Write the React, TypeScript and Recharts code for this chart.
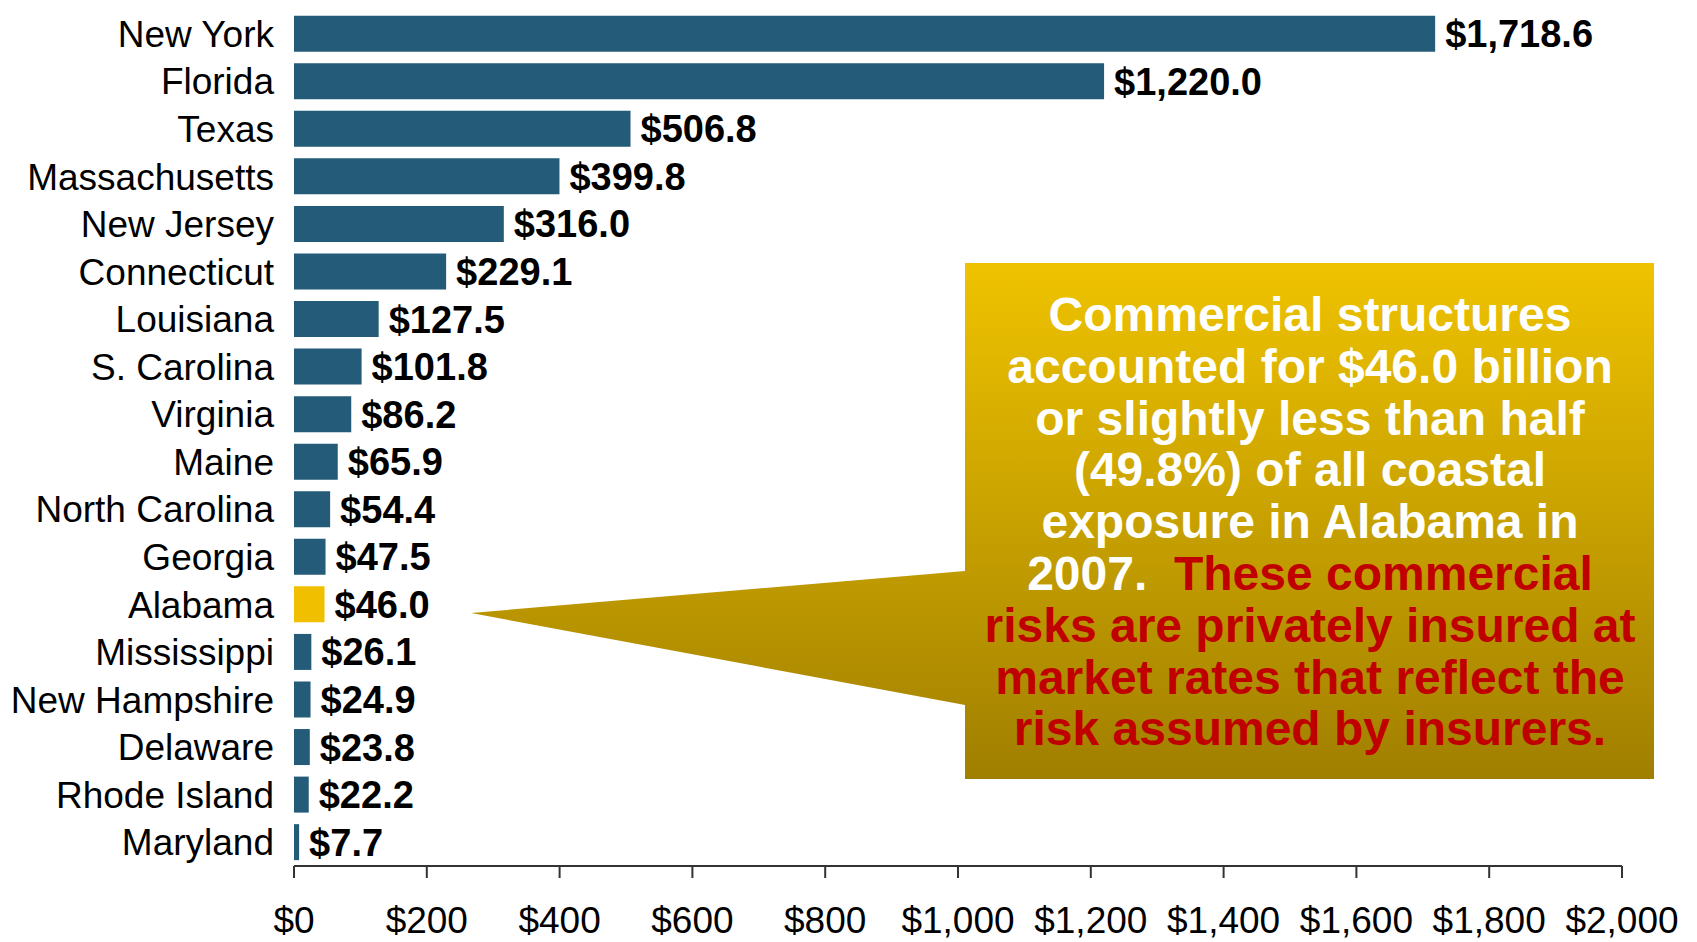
import { Bar, BarChart, Cell, LabelList, XAxis, YAxis } from "recharts";

const states = [
  "New York",
  "Florida",
  "Texas",
  "Massachusetts",
  "New Jersey",
  "Connecticut",
  "Louisiana",
  "S. Carolina",
  "Virginia",
  "Maine",
  "North Carolina",
  "Georgia",
  "Alabama",
  "Mississippi",
  "New Hampshire",
  "Delaware",
  "Rhode Island",
  "Maryland",
];
const exposure = [
  1718.6, 1220.0, 506.8, 399.8, 316.0, 229.1, 127.5, 101.8, 86.2, 65.9, 54.4,
  47.5, 46.0, 26.1, 24.9, 23.8, 22.2, 7.7,
];
const highlighted = "Alabama";
const xTicks = [0, 200, 400, 600, 800, 1000, 1200, 1400, 1600, 1800, 2000];
const boundaryTicks = states.map((_, i) => i).concat(states.length);

const calloutWhite = [
  "Commercial structures",
  "accounted for $46.0 billion",
  "or slightly less than half",
  "(49.8%) of all coastal",
  "exposure in Alabama in",
];
const calloutMixed = { white: "2007.\u00a0 ", red: "These commercial" };
const calloutRed = [
  "risks are privately insured at",
  "market rates that reflect the",
  "risk assumed by insurers.",
];

const data = states.map((state, i) => ({ state, value: exposure[i] }));

const BLUE = "#235b79";
const YELLOW = "#f0c000";
const FONT = "Arial, 'Liberation Sans', sans-serif";

const money = (v: number) => `$${v.toLocaleString("en-US")}`;
const moneyLabel = (v: any) =>
  `$${Number(v).toLocaleString("en-US", { minimumFractionDigits: 1, maximumFractionDigits: 1 })}`;

function Callout() {
  const cx = 1310;
  const y0 = 331;
  const step = 51.8;
  return (
    <svg
      width={1697}
      height={942}
      style={{ position: "absolute", left: 0, top: 0, pointerEvents: "none" }}
    >
      <defs>
        <linearGradient id="calloutFill" gradientUnits="userSpaceOnUse" x1="0" y1="263" x2="0" y2="779">
          <stop offset="0%" stopColor="#efc300" />
          <stop offset="100%" stopColor="#a07f00" />
        </linearGradient>
      </defs>
      <path
        d="M 471 613 L 965 571 L 965 263 L 1654 263 L 1654 779 L 965 779 L 965 705 Z"
        fill="url(#calloutFill)"
      />
      <g fontFamily={FONT} fontSize={48} fontWeight="bold" textAnchor="middle" style={{ whiteSpace: "pre" }}>
        {calloutWhite.map((line, i) => (
          <text key={line} x={cx} y={y0 + i * step} fill="#ffffff">
            {line}
          </text>
        ))}
        <text x={cx} y={y0 + 5 * step}>
          <tspan fill="#ffffff">{calloutMixed.white}</tspan>
          <tspan fill="#c00000">{calloutMixed.red}</tspan>
        </text>
        {calloutRed.map((line, i) => (
          <text key={line} x={cx} y={y0 + (6 + i) * step} fill="#c00000">
            {line}
          </text>
        ))}
      </g>
    </svg>
  );
}

export default function App() {
  return (
    <div
      style={{
        position: "absolute",
        left: 0,
        top: 0,
        width: 1697,
        height: 942,
        background: "#fff",
        fontFamily: FONT,
      }}
    >
      <BarChart
        width={1697}
        height={942}
        data={data}
        layout="vertical"
        margin={{ top: 10, right: 75, bottom: 6, left: 0 }}
        barCategoryGap="12%"
      >
        <YAxis
          yAxisId="bounds"
          type="number"
          domain={[0, states.length]}
          ticks={boundaryTicks}
          width={0}
          tick={false}
          tickSize={10}
          axisLine={{ stroke: "#333", strokeWidth: 2 }}
          tickLine={{ stroke: "#333", strokeWidth: 2 }}
        />
        <YAxis
          yAxisId="cat"
          type="category"
          dataKey="state"
          width={294}
          interval={0}
          axisLine={false}
          tickLine={false}
          tickSize={10}
          tickMargin={10}
          tick={{ fill: "#000", fontSize: 37, fontFamily: FONT }}
        />
        <XAxis
          type="number"
          domain={[0, 2000]}
          ticks={xTicks}
          tickFormatter={money}
          height={70}
          tickSize={12}
          tickMargin={29}
          axisLine={{ stroke: "#333", strokeWidth: 2 }}
          tickLine={{ stroke: "#333", strokeWidth: 2 }}
          tick={{ fill: "#000", fontSize: 37, fontFamily: FONT }}
        />
        <Bar dataKey="value" yAxisId="cat" isAnimationActive={false}>
          {data.map((d) => (
            <Cell key={d.state} fill={d.state === highlighted ? YELLOW : BLUE} />
          ))}
          <LabelList
            dataKey="value"
            position="right"
            offset={10}
            formatter={moneyLabel}
            fill="#000"
            fontSize={38}
            fontWeight="bold"
            fontFamily={FONT}
          />
        </Bar>
      </BarChart>
      <Callout />
    </div>
  );
}
